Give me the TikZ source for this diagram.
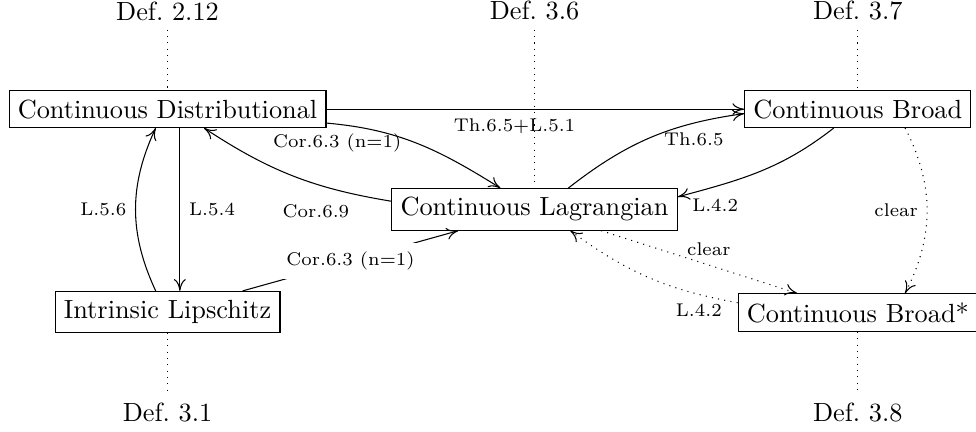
\documentclass[tikz,border=0pt]{standalone}
\usetikzlibrary{arrows.meta}

\begin{document}
\begin{tikzpicture}[
    box/.style={draw, rectangle},
    deflink/.style={dotted},
    edgelabel/.style={font=\scriptsize},
    >={To[length=4.5pt, width=4.5pt]},
    ]
    \useasboundingbox (0,0) rectangle (13.05,-5.775);

    \node[box] (cdist) at (2.24,-1.46) {Continuous Distributional};
    \node[box] (cbroad) at (11.47,-1.46) {Continuous Broad};
    \node[box] (clag) at (7.147,-2.80) {Continuous Lagrangian};
    \node[box] (ilip) at (2.24,-4.17) {Intrinsic Lipschitz};
    \node[box] (cbstar) at (11.47,-4.18) {Continuous Broad*};

    \node (def212) at (2.24,-0.147) {Def.\ 2.12};
    \node (def36) at (7.147,-0.147) {Def.\ 3.6};
    \node (def37) at (11.47,-0.147) {Def.\ 3.7};
    \node (def31) at (2.24,-5.51) {Def.\ 3.1};
    \node (def38) at (11.47,-5.51) {Def.\ 3.8};

    \draw[deflink] (def212) -- (cdist);
    \draw[deflink] (def36) -- (clag);
    \draw[deflink] (def37) -- (cbroad);
    \draw[deflink] (ilip) -- (def31);
    \draw[deflink] (cbstar) -- (def38);

    \draw[->] (cdist) -- node[edgelabel, pos=0.45, below] {Th.6.5+L.5.1} (cbroad);
    \draw[->] (cdist) to[out=-5, in=148] node[edgelabel, pos=0.05, below] {Cor.6.3 (n=1)} (clag);
    \draw[->] (clag) to[bend left=12] node[edgelabel, pos=0.15, below left] {Cor.6.9} (cdist);
    \draw[->] (clag) to[bend left=15] node[edgelabel, pos=0.75, below] {Th.6.5} (cbroad);
    \draw[->] (cbroad) to[out=218, in=15] node[edgelabel, pos=1, right=2pt, yshift=-3pt] {L.4.2} (clag.5);
    \draw[->] ([xshift=4.7pt]cdist.south) -- node[edgelabel, right] {L.5.4} ([xshift=4.7pt]ilip.north);
    \draw[->] ([xshift=-4.5pt]ilip.north) to[bend left=25] node[edgelabel, left] {L.5.6} ([xshift=-4.5pt]cdist.south);
    \draw[->] (ilip) -- node[edgelabel, fill=white] {Cor.6.3 (n=1)} (clag);

    % dotted ones
    \draw[->, dotted] (clag) -- node[edgelabel, pos=0.55, above] {clear} (cbstar);
    \draw[->, dotted] (cbstar) to[bend left=13] node[edgelabel, pos=0.2, below] {L.4.2} (clag);
    \draw[->, dotted] ([xshift=18pt]cbroad.south) to[bend left=27] node[edgelabel, left] {clear} ([xshift=18pt]cbstar.north);
\end{tikzpicture}
\end{document}
